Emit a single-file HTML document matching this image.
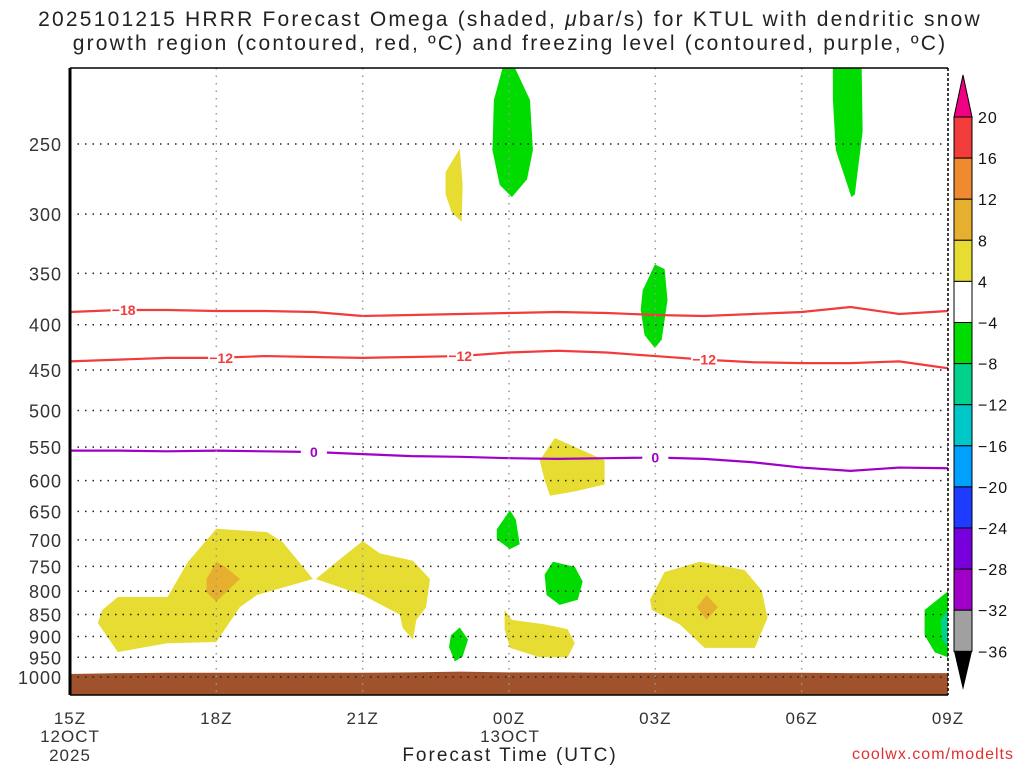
<!DOCTYPE html>
<html><head><meta charset="utf-8"><style>
body{margin:0;background:#fff;width:1024px;height:768px;overflow:hidden;font-family:"Liberation Sans",sans-serif}
svg text{font-family:"Liberation Sans",sans-serif}
</style></head><body>
<svg id="c" width="1024" height="768"></svg>
<script>
const hours=[0,1,2,3,4,5,6,7,8,9,10,11,12,13,14,15,16,17,18];
const xTickHours=[0,3,6,9,12,15,18];
const xTickLabels=["15Z","18Z","21Z","00Z","03Z","06Z","09Z"];
const yTicks=[250,300,350,400,450,500,550,600,650,700,750,800,850,900,950,1000];
const contourM18=[387,385,385,386,386,387,391,390,389,388,387,388,390,391,389,387,382,389,386];
const contourM12=[440,438,436,436,434,435,436,435,434,430,428,430,434,438,441,442,442,440,448];
const contour0=[555,555,556,555,556,557,560,563,564,566,567,566,565,567,572,580,585,580,581];
const surfaceP=[992,990,989,989,989,989,989,988,986,988,988,989,989,989,989,989,990,990,990];
const cbLevels=["20","16","12","8","4","−4","−8","−12","−16","−20","−24","−28","−32","−36"];
const cbColors=["#f23c3c","#f08a30","#e6af2d","#e6dc32","#ffffff","#00dc00","#00d28c","#00c8c8","#00a0ff","#1e3cff","#7800dc","#a000c8","#a0a0a0"];
const blobYellowA=[[0.57,869],[0.66,840],[0.98,812],[2.0,812],[2.42,741],[3.0,680],[4.04,686],[4.36,704],[4.98,775],[3.83,808],[3.48,834],[3.0,913],[1.99,916],[0.98,937]];
const blobOrangeA=[[2.8,775],[3.0,741],[3.2,752],[3.48,775],[3.0,822],[2.8,802]];
const blobYellowB=[[5.04,775],[5.47,741],[6.0,702],[6.35,725],[7.03,739],[7.38,775],[7.3,834],[7.1,862],[7.03,907],[6.82,880],[6.76,850],[6.0,808]];
const blobYellowTop=[[7.7,269],[7.99,253],[8.05,278],[8.03,306],[7.83,299],[7.7,285]];
const blobGreenTop=[[8.87,205],[9.12,205],[9.43,223],[9.49,254],[9.37,274],[9.06,287],[8.81,278],[8.66,254],[8.69,223]];
const blobGreenTopR=[[15.64,205],[16.23,205],[16.25,242],[16.09,285],[16.02,287],[15.7,254],[15.64,223]];
const blobGreen03=[[11.74,366],[11.99,342],[12.19,346],[12.25,375],[12.13,416],[11.99,425],[11.78,411],[11.7,385]];
const blobYellow01=[[9.63,569],[9.94,537],[10.96,569],[10.96,606],[10.35,617],[9.84,624],[9.73,599]];
const blobGreen680=[[8.75,681],[9.02,648],[9.14,664],[9.22,708],[9.02,717],[8.75,699]];
const blobGreen790=[[9.73,766],[9.9,741],[10.35,751],[10.51,780],[10.41,818],[10.04,829],[9.77,808]];
const blobYellow900=[[8.91,840],[9.06,862],[9.73,872],[10.2,883],[10.35,916],[10.2,950],[9.63,950],[9.02,927],[8.91,883]];
const blobGreen950=[[7.99,879],[8.16,907],[8.05,948],[7.89,960],[7.77,925],[7.81,897]];
const blobYellow03=[[11.89,818],[12.19,761],[12.91,741],[13.83,757],[14.18,798],[14.3,857],[14.04,927],[13.01,927],[12.5,872],[11.93,840]];
const blobOrange03=[[12.85,834],[13.05,808],[13.28,834],[13.05,862]];
const blobGreen09=[[17.52,840],[18,800],[18,950],[17.73,938],[17.52,897]];
const blobTeal09=[[17.85,862],[18,840],[18,927],[17.88,907]];

const X0=70,X1=948,Y0=68,Y1=695;
const xs=h=>X0+h*(X1-X0)/18;
const ys=p=>144+384.5*Math.log(p/250);
const NS="http://www.w3.org/2000/svg";
const svg=document.getElementById('c');
function mk(t,a,parent){const e=document.createElementNS(NS,t);for(const k in a)e.setAttribute(k,a[k]);(parent||svg).appendChild(e);return e;}
const clip=mk('clipPath',{id:'pc'});mk('rect',{x:X0,y:Y0,width:X1-X0,height:Y1-Y0},clip);
const g=mk('g',{'clip-path':'url(#pc)'});
function blob(arr,col,name){const e=mk('polygon',{points:arr.map(d=>xs(d[0])+','+ys(d[1])).join(' '),fill:col},g);

}
blob(blobYellowA,'#e6dc32','omega-region-18z');blob(blobOrangeA,'#e6af2d','omega-max-18z');
blob(blobYellowB,'#e6dc32','omega-region-21z');blob(blobYellowTop,'#e6dc32','omega-region-upper');
blob(blobGreenTop,'#00dc00','ascent-region-00z-upper');blob(blobGreenTopR,'#00dc00','ascent-region-07z-upper');
blob(blobGreen03,'#00dc00','ascent-region-03z');blob(blobYellow01,'#e6dc32','omega-region-01z');
blob(blobGreen680,'#00dc00','ascent-region-00z-680');blob(blobGreen790,'#00dc00','ascent-region-01z-790');
blob(blobYellow900,'#e6dc32','omega-region-00z-900');blob(blobGreen950,'#00dc00','ascent-region-23z-950');
blob(blobYellow03,'#e6dc32','omega-region-03z');blob(blobOrange03,'#e6af2d','omega-max-04z');
blob(blobGreen09,'#00dc00','ascent-region-09z');blob(blobTeal09,'#00d28c','ascent-max-09z');
let tp='M'+xs(0)+','+Y1;hours.forEach((h,i)=>{tp+=' L'+xs(h)+','+ys(surfaceP[i]);});tp+=' L'+xs(18)+','+Y1+'Z';
const terr=mk('path',{d:tp,fill:'#a0522d'},g);


yTicks.forEach(p=>{const l=mk('line',{x1:X0,x2:X1,y1:ys(p),y2:ys(p),stroke:'#222','stroke-width':1.5,'stroke-dasharray':'1.5,6'});


const t=mk('text',{x:62,y:ys(p)+7,'text-anchor':'end','font-size':18,fill:'#333','letter-spacing':1});t.textContent=p;

});
xTickHours.forEach((h,i)=>{if(i>0&&i<6){const l=mk('line',{x1:xs(h),x2:xs(h),y1:Y0,y2:Y1,stroke:'#999','stroke-width':1.5,'stroke-dasharray':'1.5,6'});

}
const t=mk('text',{x:xs(h),y:724,'text-anchor':'middle','font-size':17,fill:'#333','letter-spacing':1});t.textContent=xTickLabels[i];

});
function line(arr,col,name){let d='';hours.forEach((h,i)=>{d+=(i?' L':'M')+xs(h)+','+ys(arr[i]);});
const e=mk('path',{d:d,fill:'none',stroke:col,'stroke-width':2.2},g);

}
line(contourM18,'#f23c3c','contour-minus18');line(contourM12,'#f23c3c','contour-minus12');line(contour0,'#a000c8','freezing-level-contour');
function lab(h,arr,txt,col){const x=xs(h),y=ys(arr[Math.round(h)]);mk('rect',{x:x-13,y:y-8,width:26,height:16,fill:'#fff'});
const t=mk('text',{x:x,y:y+5,'text-anchor':'middle','font-size':14,'font-weight':'bold',fill:col});t.textContent=txt;

}
lab(1.1,contourM18,'−18','#f23c3c');lab(3.1,contourM12,'−12','#f23c3c');lab(8,contourM12,'−12','#f23c3c');lab(13,contourM12,'−12','#f23c3c');
lab(5,contour0,'0','#a000c8');lab(12,contour0,'0','#a000c8');
mk('line',{x1:X0,x2:X1,y1:Y0,y2:Y0,stroke:'#000','stroke-width':1.5});
mk('line',{x1:X0,x2:X1,y1:Y1,y2:Y1,stroke:'#000','stroke-width':1.5});
mk('line',{x1:X0,x2:X0,y1:Y0,y2:Y1,stroke:'#000','stroke-width':3});
mk('line',{x1:X1,x2:X1,y1:Y0,y2:Y1,stroke:'#000','stroke-width':1.5,'stroke-dasharray':'3,2'});
const CB0=117,CBs=41.1,CX=954,CW=18;
cbColors.forEach((c,i)=>{const r=mk('rect',{x:CX,y:CB0+i*CBs,width:CW,height:CBs,fill:c,stroke:'#000','stroke-width':1});

});
mk('polygon',{points:`${CX},${CB0} ${CX+CW},${CB0} ${CX+CW/2},75`,fill:'#f00082',stroke:'#000'});
const BE=CB0+13*CBs;mk('polygon',{points:`${CX},${BE} ${CX+CW},${BE} ${CX+CW/2},690`,fill:'#000'});
cbLevels.forEach((l,i)=>{const t=mk('text',{x:978,y:CB0+i*CBs+6,'font-size':16,fill:'#111','letter-spacing':1});t.textContent=l;

});
</script>
<div style="position:absolute;left:0;top:8px;width:1020px;text-align:center;font-size:21px;line-height:24px;letter-spacing:2.2px;color:#222;white-space:nowrap">2025101215 HRRR Forecast Omega (shaded, <i>μ</i>bar/s) for KTUL with dendritic snow<br>growth region (contoured, red, ºC) and freezing level (contoured, purple, ºC)</div>
<div style="position:absolute;left:20px;top:727px;width:100px;text-align:center;font-size:17px;line-height:19px;letter-spacing:1px;color:#333">12OCT<br>2025</div>
<div style="position:absolute;left:470px;top:727px;width:80px;text-align:center;font-size:17px;letter-spacing:1px;color:#333">13OCT</div>
<div style="position:absolute;left:300px;top:745px;width:420px;text-align:center;font-size:19px;letter-spacing:2px;color:#222">Forecast Time (UTC)</div>
<div style="position:absolute;right:10px;top:746px;font-size:16px;color:#e03030;letter-spacing:1px">coolwx.com/modelts</div>
</body></html>
